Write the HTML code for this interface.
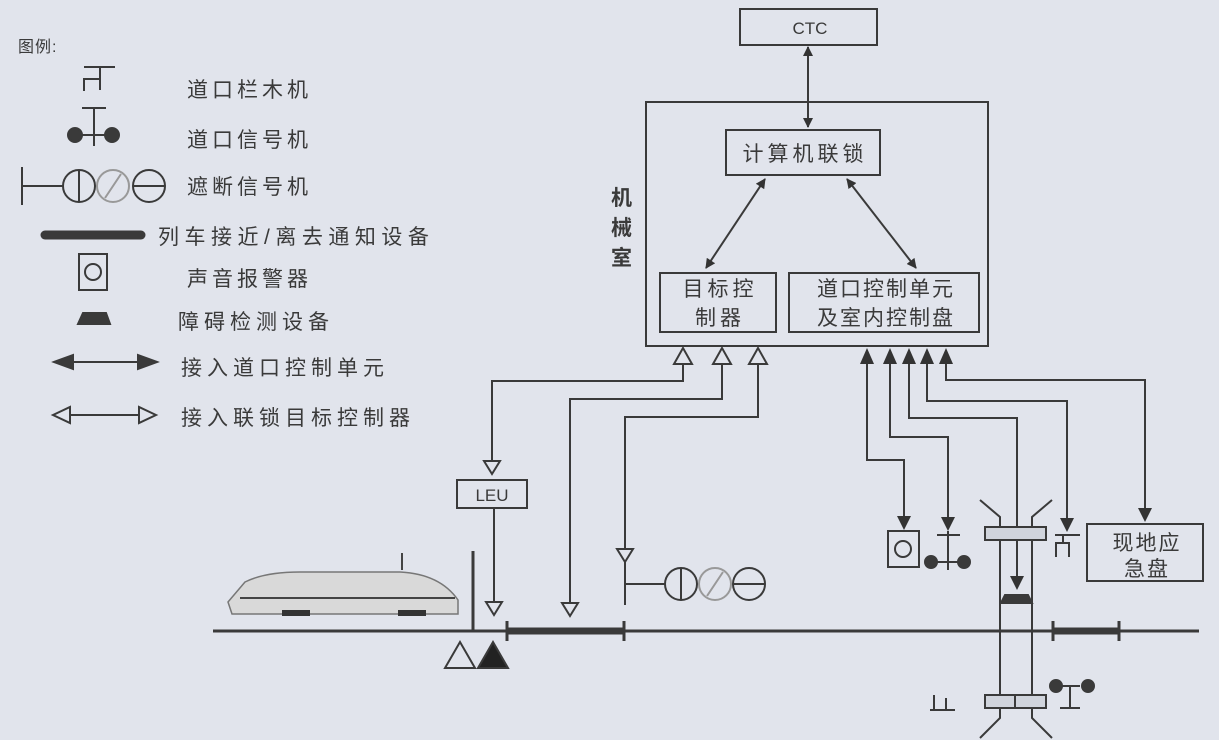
<!DOCTYPE html>
<html><head><meta charset="utf-8"><style>
html,body{margin:0;padding:0;background:#e1e4ec;}
svg{display:block}
text{font-family:"Liberation Sans","Noto Sans CJK SC",sans-serif;fill:#3a3a3a}
</style></head><body>
<svg width="1219" height="740" viewBox="0 0 1219 740" xmlns="http://www.w3.org/2000/svg">
<defs>
<marker id="f" markerWidth="10" markerHeight="10" refX="9" refY="5" orient="auto" markerUnits="userSpaceOnUse"><path d="M0,0 L10,5 L0,10 z" fill="#333"/></marker>
<marker id="fs" markerWidth="10" markerHeight="10" refX="1" refY="5" orient="auto" markerUnits="userSpaceOnUse"><path d="M10,0 L0,5 L10,10 z" fill="#333"/></marker>
</defs>
<rect width="1219" height="740" fill="#e1e4ec"/>
<g stroke="#3a3a3a" stroke-width="2" fill="none">
<!-- legend -->
<path d="M84,91 V79 H100 V67 M84,67 H115 M100,67 V90"/>
<path d="M82,108 H106 M94,108 V146 M75,135 H112"/>
<circle cx="75" cy="135" r="7" fill="#3a3a3a"/><circle cx="112" cy="135" r="7" fill="#3a3a3a"/>
<path d="M22,167 V205 M22,186 H63"/>
<circle cx="79" cy="186" r="16"/><path d="M79,170 V202"/>
<circle cx="113" cy="186" r="16" stroke="#999"/><path d="M105,198 L121,174" stroke="#999"/>
<circle cx="149" cy="186" r="16"/><path d="M133,186 H165"/>
<path d="M45,235 H141" stroke-width="9" stroke-linecap="round"/>
<rect x="79" y="254" width="28" height="36"/><circle cx="93" cy="272" r="8"/>
<path d="M78,324 L83,313 H106 L110,324 Z" fill="#3a3a3a"/>
<path d="M65,362 H145"/><path d="M54,362 L73,355 L73,369 Z M157,362 L138,355 L138,369 Z" fill="#3a3a3a"/>
<path d="M66,415 H141"/><path d="M53,415 L70,407 V423 Z M156,415 L139,407 V423 Z" fill="#e1e4ec"/>
<!-- boxes -->
<rect x="740" y="9" width="137" height="36"/>
<rect x="646" y="102" width="342" height="244"/>
<rect x="726" y="130" width="154" height="45"/>
<rect x="660" y="273" width="116" height="59"/>
<rect x="789" y="273" width="190" height="59"/>
<path d="M808,47 V127" marker-start="url(#fs)" marker-end="url(#f)"/>
<path d="M765,179 L706,268" marker-start="url(#fs)" marker-end="url(#f)"/>
<path d="M847,179 L916,268" marker-start="url(#fs)" marker-end="url(#f)"/>
<!-- hollow connections -->
<path d="M683,364 V381 H492 V470"/>
<path d="M722,364 V399 H570 V608"/>
<path d="M758,364 V417 H625 V605"/>
<path d="M494,508 V610"/>
<rect x="457" y="480" width="70" height="28"/>
<g fill="#e1e4ec">
<path d="M683,348 L674,364 H692 Z M722,348 L713,364 H731 Z M758,348 L749,364 H767 Z"/>
<path d="M492,474 L484,461 H500 Z M494,615 L486,602 H502 Z M570,616 L562,603 H578 Z M625,562 L617,549 H633 Z"/>
</g>
<!-- abort signal -->
<path d="M625,584 H665"/>
<circle cx="681" cy="584" r="16"/><path d="M681,568 V600"/>
<circle cx="715" cy="584" r="16" stroke="#999"/><path d="M707,596 L723,572" stroke="#999"/>
<circle cx="749" cy="584" r="16"/><path d="M733,584 H765"/>
<!-- filled connections -->
<path d="M867,362 V460 H904 V520"/>
<path d="M890,362 V437 H948 V520"/>
<path d="M909,362 V418 H1017 V585"/>
<path d="M927,362 V401 H1067 V522"/>
<path d="M946,362 V380 H1145 V512"/>
<g fill="#333" stroke="none">
<path d="M867,348 L860,364 H874 Z M890,348 L883,364 H897 Z M909,348 L902,364 H916 Z M927,348 L920,364 H934 Z M946,348 L939,364 H953 Z"/>
<path d="M904,530 L897,516 H911 Z M948,531 L941,517 H955 Z M1017,590 L1010,576 H1024 Z M1067,532 L1060,518 H1074 Z M1145,522 L1138,508 H1152 Z"/>
</g>
<rect x="888" y="531" width="31" height="36"/><circle cx="903" cy="549" r="8"/>
<path d="M937,535 H960 M948,531 V570 M928,562 H968"/>
<circle cx="931" cy="562" r="6" fill="#3a3a3a"/><circle cx="964" cy="562" r="6" fill="#3a3a3a"/>
<path d="M1056,557 V543 H1069 V557 M1063,535 V543 M1055,535 H1080"/>
<rect x="1087" y="524" width="116" height="57"/>
<!-- crossing -->
<path d="M1000,540 V695 M1032,540 V695"/>
<rect x="985" y="527" width="61" height="13" fill="#d0d4dc"/>
<rect x="985" y="695" width="61" height="13" fill="#d0d4dc"/><path d="M1015,695 V708"/>
<path d="M1000,527 V517 L980,500 M1032,527 V517 L1052,500"/>
<path d="M1000,708 V718 L980,738 M1032,708 V718 L1052,738"/>
<path d="M1001,603 L1005,595 H1028 L1032,603 Z" fill="#3a3a3a"/>
<path d="M934,695 V710 H946 V698 M930,710 H955"/>
<path d="M1070,686 V708 M1060,708 H1080 M1058,686 H1080"/>
<circle cx="1056" cy="686" r="6" fill="#3a3a3a"/><circle cx="1088" cy="686" r="6" fill="#3a3a3a"/>
<!-- track -->
<path d="M213,631 H1199" stroke-width="3"/>
<path d="M507,631 H624 M1053,631 H1119" stroke-width="7"/>
<path d="M507,621 V641 M624,621 V641 M1053,621 V641 M1119,621 V641" stroke-width="3"/>
<path d="M473,551 V631" stroke-width="3"/>
<path d="M445,668 L460,642 L475,668 Z"/>
<path d="M478,668 L493,642 L508,668 Z" fill="#222"/>
<!-- train -->
<g stroke="#777" stroke-width="1.5">
<path d="M228,602 L245,582 Q265,572 300,572 H400 Q440,574 458,600 V614 H232 Z" fill="#d9d9d9"/>
<path d="M240,598 H455" stroke="#444" stroke-width="2"/>
<path d="M282,613 h28 M398,613 h28" stroke="#333" stroke-width="6"/>
<path d="M402,570 V553" stroke="#444" stroke-width="2"/>
</g>
</g>
<g font-size="21" letter-spacing="4">
<text x="18" y="52" font-size="16" letter-spacing="1">图例:</text>
<text x="187" y="97">道口栏木机</text>
<text x="187" y="147">道口信号机</text>
<text x="187" y="194">遮断信号机</text>
<text x="158" y="244" letter-spacing="5.5">列车接近/离去通知设备</text>
<text x="187" y="286">声音报警器</text>
<text x="178" y="329" letter-spacing="5">障碍检测设备</text>
<text x="181" y="375" letter-spacing="5">接入道口控制单元</text>
<text x="181" y="425" letter-spacing="5">接入联锁目标控制器</text>
<text x="810" y="34" text-anchor="middle" font-family="Liberation Serif,serif" font-size="17" letter-spacing="0">CTC</text>
<text x="805" y="161" text-anchor="middle">计算机联锁</text>
<text x="720" y="296" text-anchor="middle">目标控</text>
<text x="720" y="325" text-anchor="middle">制器</text>
<text x="886" y="296" text-anchor="middle" letter-spacing="2">道口控制单元</text>
<text x="886" y="325" text-anchor="middle" letter-spacing="2">及室内控制盘</text>
<text x="1147" y="550" text-anchor="middle" letter-spacing="2">现地应</text>
<text x="1147" y="576" text-anchor="middle" letter-spacing="2">急盘</text>
<text x="492" y="501" text-anchor="middle" font-family="Liberation Serif,serif" font-size="17" letter-spacing="0">LEU</text>
<g font-weight="bold" font-size="21" letter-spacing="0"><text x="611" y="205">机</text><text x="611" y="235">械</text><text x="611" y="265">室</text></g>
</g>
</svg>
</body></html>
